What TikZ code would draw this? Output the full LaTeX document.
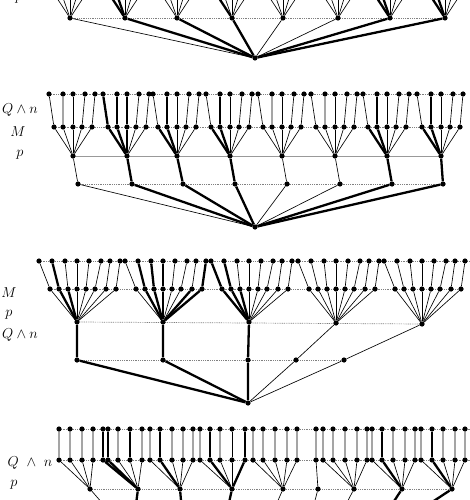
\documentclass[tikz,border=0pt]{standalone}
\usepackage{amsmath}
\pgfdeclarelayer{bg}
\pgfsetlayers{bg,main}
\tikzset{
  dot/.style={circle,fill=black,draw=none,inner sep=0pt,minimum size=5.2pt},
  thinedge/.style={line width=0.65pt},
  thickedge/.style={line width=2.3pt},
  e0/.style={thinedge},
  e1/.style={thickedge},
  levelline/.style={black!50,line width=0.7pt,dash pattern=on 0.9pt off 0.9pt},
  levelsolid/.style={black!40,line width=0.6pt},
  lbl/.style={inner sep=0pt,font=\fontsize{15}{15}\selectfont}
}
\begin{document}
\begin{tikzpicture}[x=1pt,y=-1pt]
\useasboundingbox (0,0) rectangle (470,500);
\clip (0,0) rectangle (470,500);

% ================= panel A (top, cut) =================
\node[lbl] (A-l1) at (19,-1) {$p$};
\node[dot] (A-r) at (255,58) {};
\foreach \g/\px/\tk in {1/70/0,2/125/1,3/177/1,4/232/1,5/283/0,6/338/0,7/390/1,8/445/1}{
  \node[dot] (A-p\g) at (\px,18) {};
  \foreach \c/\so in {1/-19,2/-10,3/0,4/9,5/19}{
    \coordinate (A-s\g-\c) at (\px+\so,-11);
    \draw[thinedge] (A-s\g-\c) -- (A-p\g);
  }
  \draw[e\tk] (A-p\g) -- (A-r);
}
\foreach \g/\c in {2/1,2/2,4/1,7/1,7/2,8/1,8/2}{
  \draw[thickedge] (A-s\g-\c) -- (A-p\g);
}
\begin{pgfonlayer}{bg}
  \draw[levelline] (A-p1.center) -- (A-p8.center);
\end{pgfonlayer}

% ================= panel B =================
\node[lbl] (B-l1) at (20,110) {$Q\wedge n$};
\node[lbl] (B-l2) at (18,132) {$M$};
\node[lbl] (B-l3) at (20,155) {$p$};
\node[dot] (B-r) at (255,227) {};
\foreach \g/\px/\qx/\tk in {1/73/78/0,2/127/132/1,3/177/183/1,4/230/235/1,5/282/287/0,6/335/340/0,7/387/392/1,8/441/443/1}{
  \node[dot] (B-p\g) at (\px,156) {};
  \node[dot] (B-q\g) at (\qx,184) {};
  \draw[e\tk] (B-p\g) -- (B-q\g) -- (B-r);
  \foreach \c/\so/\to in {1/-19/-24,2/-10/-10,3/0/0,4/9/12,5/19/22}{
    \node[dot] (B-s\g-\c) at (\px+\so,127) {};
    \node[dot] (B-t\g-\c) at (\px+\to,94) {};
    \draw[thinedge] (B-t\g-\c) -- (B-s\g-\c) -- (B-p\g);
  }
}
\foreach \g/\c in {2/1,2/2,2/3,3/2,4/2,7/2,8/2}{
  \draw[thickedge] (B-t\g-\c) -- (B-s\g-\c);
}
\foreach \g/\c in {2/1,2/2,2/3,3/1,3/2,4/1,4/2,7/1,7/2,8/1,8/2}{
  \draw[thickedge] (B-s\g-\c) -- (B-p\g);
}
\begin{pgfonlayer}{bg}
  \draw[levelline] (B-t1-1.center) -- (B-t8-5.center);
  \draw[levelline] (B-s1-1.center) -- (B-s8-5.center);
  \draw[levelsolid] (B-p1.center) -- (B-p8.center);
  \draw[levelline] (B-q1.center) -- (B-q8.center);
\end{pgfonlayer}

% ================= panel C =================
\node[lbl] (C-l1) at (9,293) {$M$};
\node[lbl] (C-l2) at (9,315) {$p$};
\node[lbl] (C-l3) at (20,335) {$Q\wedge n$};
\node[dot] (C-r) at (248,403) {};
\foreach \g/\px/\py/\qx/\tk in {1/77/322/77/1,2/163/322/163/1,3/249/322/248/1,4/336/323/296/0,5/422/324/344/0}{
  \node[dot] (C-p\g) at (\px,\py) {};
  \node[dot] (C-q\g) at (\qx,360) {};
  \draw[e\tk] (C-p\g) -- (C-q\g) -- (C-r);
  \foreach \c/\so/\to in {1/-27/-38,2/-18/-25,3/-9/-12,4/0/0,5/9/12,6/18/24,7/29/33,8/39/43}{
    \node[dot] (C-s\g-\c) at (\px+\so,289) {};
    \node[dot] (C-t\g-\c) at (\px+\to,261) {};
    \draw[thinedge] (C-t\g-\c) -- (C-s\g-\c) -- (C-p\g);
  }
}
\foreach \g/\c in {1/2,2/2,2/3,2/4,2/8,3/1,3/2}{
  \draw[thickedge] (C-t\g-\c) -- (C-s\g-\c);
}
\foreach \g/\c in {1/2,1/3,2/2,2/3,2/4,2/7,2/8,3/1,3/2,3/3}{
  \draw[thickedge] (C-s\g-\c) -- (C-p\g);
}
\begin{pgfonlayer}{bg}
  \draw[levelline] (C-t1-1.center) -- (C-t5-8.center) -- ++(5,0);
  \draw[levelline] (C-s1-1.center) -- (C-s5-8.center);
  \draw[levelline] (C-p1.center) -- (C-p5.center);
  \draw[levelline] (C-q1.center) -- (C-q5.center);
\end{pgfonlayer}

% ================= panel D (bottom, cut) =================
\node[lbl] (D-l1) at (30,463) {$Q\ \wedge\ n$};
\node[lbl] (D-l2) at (14,485) {$p$};
\node[lbl] (D-l3) at (14,507) {$M$};
\foreach \g/\px/\dx/\tk in {1/90/20/0,2/138/-3/1,3/180/2/1,4/232/-5/1,5/283/-10/0,6/318/-6/0,7/354/-12/0,8/402/-15/1,9/452/-35/1}{
  \node[dot] (D-p\g) at (\px,489) {};
  \coordinate (D-m\g) at (\px+\dx,512);
  \draw[e\tk] (D-p\g) -- (D-m\g);
}
\foreach \k/\x/\g in {1/59/1,2/70/1,3/82/1,4/93/1,
  5/103/2,6/108/2,7/118/2,8/130/2,9/142/2,
  10/150/3,11/160/3,12/172/3,13/183/3,14/193/3,
  15/200/4,16/210/4,17/220/4,18/232/4,19/245/4,
  20/253/5,21/263/5,22/275/5,23/287/5,24/297/5,
  25/316/6,
  26/323/7,27/333/7,28/345/7,29/357/7,30/367/7,
  31/372/8,32/382/8,33/393/8,34/405/8,35/415/8,
  36/421/9,37/432/9,38/443/9,39/455/9,40/465/9}{
  \node[dot] (D-t\k) at (\x,429) {};
  \node[dot] (D-s\k) at (\x,460) {};
  \draw[thinedge] (D-t\k) -- (D-s\k) -- (D-p\g);
}
\foreach \k in {5,6,8,11,16,19,32,37}{
  \draw[thickedge] (D-t\k) -- (D-s\k);
}
\foreach \k/\g in {5/2,6/2,11/3,16/4,19/4,32/8,37/9}{
  \draw[thickedge] (D-s\k) -- (D-p\g);
}
\begin{pgfonlayer}{bg}
  \draw[levelline] (D-t1.center) -- (D-t40.center) -- ++(5,0);
  \draw[levelline] (D-s1.center) -- (D-s40.center) -- ++(5,0);
  \draw[levelline] (D-p1.center) -- (D-p9.center);
\end{pgfonlayer}
\end{tikzpicture}
\end{document}
